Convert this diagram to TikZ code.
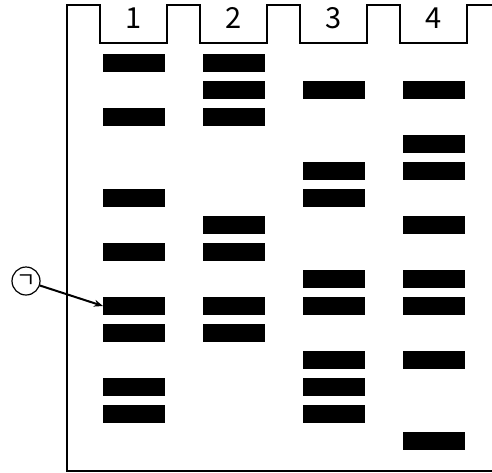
\documentclass[tikz,border=0pt]{standalone}
\usepackage{fontspec}
\setmainfont{Noto Sans CJK KR}
\usetikzlibrary{arrows.meta, positioning}

\begin{document}
\begin{tikzpicture}[x=1pt, y=-1pt,
    band/.style={rectangle, fill=black, minimum width=62pt, minimum height=18pt, inner sep=0pt, outer sep=0pt},
    lanelabel/.style={font=\fontsize{29}{29}\selectfont, inner sep=0pt},
    marker/.style={circle, draw, line width=1.2pt, minimum size=28pt, inner sep=0pt, font=\fontsize{21}{21}\selectfont}
]
\useasboundingbox (0,0) rectangle (492,472);

% gel outline with wells
\draw[line width=2pt] (495,470.5) -- (66.7,470.5) -- (66.7,5)
    -- (100,5) -- (100,43) -- (167,43) -- (167,5)
    -- (200,5) -- (200,43) -- (267,43) -- (267,5)
    -- (300,5) -- (300,43) -- (367,43) -- (367,5)
    -- (400,5) -- (400,43) -- (467,43) -- (467,5) -- (495,5);

% lanes and bands
\foreach \lane/\levels in {1/{0,2,5,7,9,10,12,13}, 2/{0,1,2,6,7,9,10}, 3/{1,4,5,8,9,11,12,13}, 4/{1,3,4,6,8,9,11,14}} {
  \node[lanelabel] (lane\lane) at ({34+100*\lane},18) {\lane};
  \foreach \k in \levels
    \node[band] (b\lane-\k) at ({34+100*\lane},{63+27*\k}) {};
}

\node[marker] (giyeok) at (26,281) {ㄱ};
\draw[-{Stealth[length=9pt,width=7pt]}, line width=2pt] (giyeok) -- (b1-9.west);

\end{tikzpicture}
\end{document}
